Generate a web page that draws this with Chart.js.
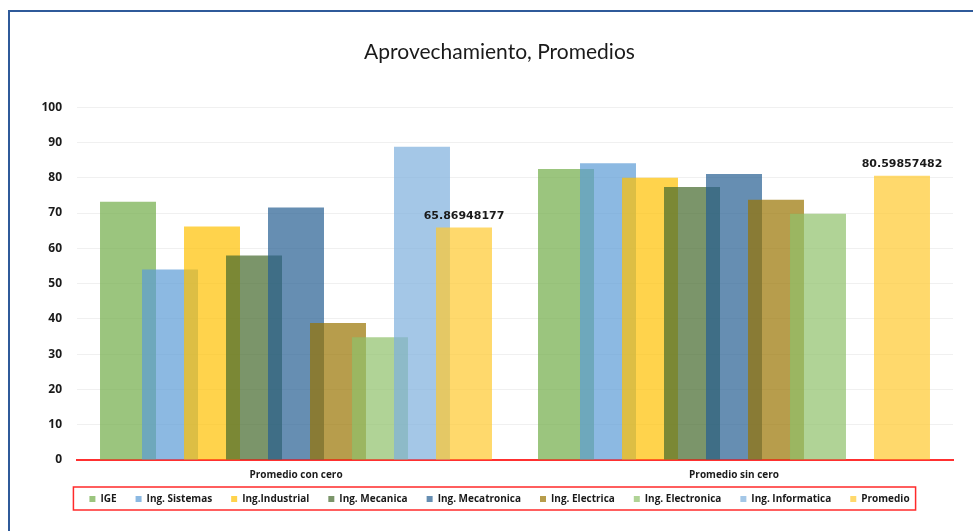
<!DOCTYPE html>
<html>
<head>
<meta charset="utf-8">
<script src="https://cdn.jsdelivr.net/npm/chart.js@4"></script>
<style>
  html, body { margin: 0; padding: 0; background: #fff; }
  body { width: 973px; height: 531px; position: relative; overflow: hidden; }
  .frame { position: absolute; left: 8px; top: 10px; width: 1000px; height: 600px; border: 2px solid #2f5a9a; box-sizing: border-box; }
  .wrap { position: absolute; left: 0; top: 0; width: 973px; height: 531px; }
</style>
</head>
<body>
<div class="frame"></div>
<div class="wrap"><canvas id="chart"></canvas></div>
<script>
const categories = ["Promedio con cero", "Promedio sin cero"];
const seriesNames = ["IGE", "Ing. Sistemas", "Ing.Industrial", "Ing. Mecanica", "Ing. Mecatronica", "Ing. Electrica", "Ing. Electronica", "Ing. Informatica", "Promedio"];
const conCero = [73.2, 54.0, 66.2, 58.0, 71.6, 38.8, 34.8, 88.8, 65.86948177];
const sinCero = [82.5, 84.1, 80.0, 77.4, 81.1, 73.8, 69.8, null, 80.59857482];
const yTicks = [0, 10, 20, 30, 40, 50, 60, 70, 80, 90, 100];

const colors = [
  "rgba(112,173,71,0.7)",
  "rgba(91,155,213,0.7)",
  "rgba(255,192,0,0.7)",
  "rgba(67,104,43,0.7)",
  "rgba(37,94,145,0.7)",
  "rgba(153,115,0,0.7)",
  "rgba(142,192,105,0.7)",
  "rgba(126,175,221,0.7)",
  "rgba(255,201,45,0.7)",
];

const datasets = seriesNames.map((name, i) => ({
  label: name,
  data: [conCero[i], sinCero[i]],
  backgroundColor: colors[i],
  borderWidth: 0,
  categoryPercentage: 0.863,
  barPercentage: 1.333,
}));

// Excel draws later series on top of earlier ones
const drawInOrder = {
  id: "drawInOrder",
  beforeDatasetsDraw(chart) {
    const ctx = chart.ctx;
    const a = chart.chartArea;
    ctx.save();
    ctx.beginPath();
    ctx.rect(a.left, a.top - 2, a.width, a.height + 2);
    ctx.clip();
    for (let i = 0; i < chart.data.datasets.length; i++) {
      if (chart.isDatasetVisible(i)) chart.getDatasetMeta(i).controller.draw();
    }
    ctx.restore();
    return false;
  },
};

const extras = {
  id: "extras",
  afterDraw(chart) {
    const ctx = chart.ctx;
    // value labels on Promedio
    const last = chart.data.datasets.length - 1;
    const meta = chart.getDatasetMeta(last);
    ctx.save();
    ctx.font = "bold 11px 'DejaVu Sans'";
    ctx.fillStyle = "#1a1a1a";
    ctx.textAlign = "center";
    ctx.textBaseline = "bottom";
    meta.data.forEach((bar, j) => {
      const v = chart.data.datasets[last].data[j];
      if (v == null) return;
      ctx.fillText(String(v), bar.x, bar.y - 6);
    });
    // red frame around legend
    const boxes = chart.legend.legendHitBoxes;
    if (boxes && boxes.length) {
      const l = Math.min(...boxes.map((b) => b.left)) - 16;
      const r = Math.max(...boxes.map((b) => b.left + b.width)) + 6;
      const t = boxes[0].top - 7;
      const bt = boxes[0].top + boxes[0].height + 6;
      ctx.strokeStyle = "#ff2a2a";
      ctx.lineWidth = 1.5;
      ctx.strokeRect(l, t, r - l, bt - t);
    }
    ctx.restore();
  },
};

// let tick labels spill outside their (narrowed) scale boxes
const noLabelClip = (s) => { s._computeLabelArea = () => undefined; };

new Chart(document.getElementById("chart"), {
  type: "bar",
  data: { labels: categories, datasets },
  plugins: [drawInOrder, extras],
  options: {
    responsive: true,
    maintainAspectRatio: false,
    animation: false,
    layout: { padding: { left: 46, right: 20, top: 0, bottom: 17 } },
    plugins: {
      title: {
        display: true,
        text: "Aprovechamiento, Promedios",
        color: "#1a1a1a",
        font: { family: "Lato", size: 21, weight: "normal" },
        padding: { top: 40, bottom: 42 },
      },
      legend: {
        position: "bottom",
        labels: {
          boxWidth: 6,
          boxHeight: 6,
          padding: 19,
          color: "#1a1a1a",
          font: { family: "'Open Sans'", size: 10, weight: "bold" },
        },
      },
      tooltip: { enabled: false },
    },
    scales: {
      x: {
        grid: { display: false, drawTicks: false },
        border: { display: true, color: "#ff3030", width: 2 },
        ticks: { color: "#1a1a1a", padding: 9, font: { family: "'Open Sans'", size: 10, weight: "bold" } },
        afterFit: (s) => { s.height = 15; noLabelClip(s); },
      },
      y: {
        min: 0,
        max: 100,
        afterBuildTicks: (s) => { s.ticks = yTicks.map((v) => ({ value: v })); },
        grid: { color: "#f0f0f0", drawTicks: false },
        border: { display: false },
        ticks: { color: "#1a1a1a", padding: 15, font: { family: "'Open Sans'", size: 12, weight: "bold" } },
        afterFit: (s) => { s.width = 31; noLabelClip(s); },
      },
    },
  },
});
</script>
</body>
</html>
